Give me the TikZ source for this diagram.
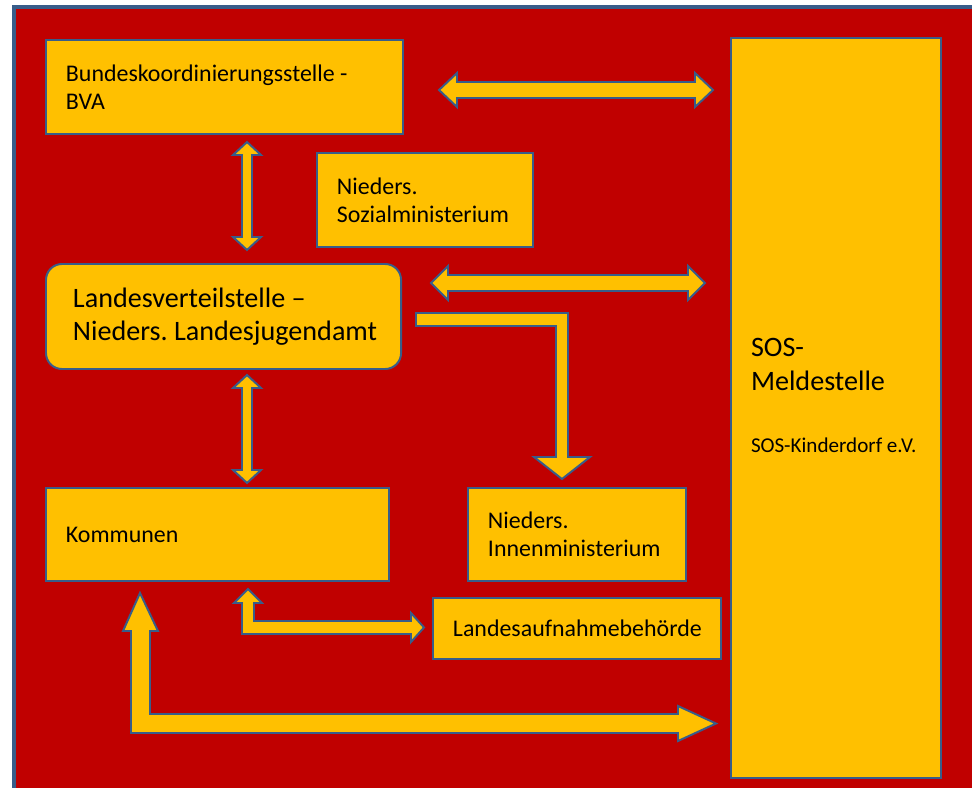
\documentclass[tikz,border=0pt]{standalone}
\usepackage{fontspec}
\setmainfont{Carlito}
\usetikzlibrary{positioning}
\frenchspacing

\definecolor{framered}{HTML}{C00000}
\definecolor{boxyellow}{HTML}{FFC000}
\definecolor{edgeblue}{HTML}{385D8A}

\tikzset{
  orgbox/.style={draw=edgeblue, fill=boxyellow, line width=1.4pt,
                 anchor=north west, align=flush left, inner sep=0pt,
                 font=\fontsize{17}{20}\selectfont, indent=0.5cm},
  indent/.style={execute at begin node={\leftskip=#1\relax}},
  fatarrow/.style={draw=edgeblue, fill=boxyellow, line width=1.4pt, line join=miter}
}

\begin{document}
\begin{tikzpicture}[x=0.025cm, y=-0.025cm]
  \useasboundingbox (0,0) rectangle (972,788);

  % red background with blue frame on left and top
  \fill[framered] (14,7) rectangle (972,788);
  \draw[edgeblue, line width=2.2pt] (14,788) -- (14,7) -- (972,7);

  % boxes
  \node[orgbox, text width=8.925cm, minimum height=2.35cm]
    (bva) at (45,39) {Bundeskoordinierungsstelle -\\BVA};
  \node[orgbox, text width=5.4cm, minimum height=2.35cm]
    (sozial) at (316,152) {Nieders.\\Sozialministerium};
  \node[orgbox, rounded corners=0.4cm, indent=0.675cm,
        text width=8.875cm, minimum height=2.625cm,
        font=\fontsize{20}{23.5}\selectfont]
    (lvs) at (45,263) {Landesverteilstelle –\\Nieders. Landesjugendamt};
  \node[orgbox, text width=8.575cm, minimum height=2.325cm]
    (komm) at (45,487) {Kommunen};
  \node[orgbox, text width=5.45cm, minimum height=2.325cm]
    (innen) at (467,487) {Nieders.\\Innenministerium};
  \node[orgbox, text width=7.2cm, minimum height=1.525cm]
    (lab) at (432,597) {Landesaufnahmebehörde};
  \node[orgbox, text width=5.25cm, minimum height=18.5cm,
        font=\fontsize{20}{24.5}\selectfont]
    (sos) at (730,37) {SOS-\\Meldestelle\\[19.5pt]{\fontsize{15}{18}\selectfont SOS-Kinderdorf e.V.}\\[-6.5pt]\mbox{}};

  % BVA <-> SOS
  \draw[fatarrow] (439,90) -- (457,73) -- (457,82) -- (695,82) -- (695,73)
    -- (713,90) -- (695,107) -- (695,98) -- (457,98) -- (457,107) -- cycle;
  % Landesverteilstelle <-> SOS
  \draw[fatarrow] (431,283) -- (448,266) -- (448,275) -- (688,275) -- (688,266)
    -- (705,283) -- (688,300) -- (688,291) -- (448,291) -- (448,300) -- cycle;
  % BVA <-> Landesverteilstelle
  \draw[fatarrow] (247,142) -- (261,155) -- (252,155) -- (252,237) -- (261,237)
    -- (247,250) -- (233,237) -- (242,237) -- (242,155) -- (233,155) -- cycle;
  % Landesverteilstelle <-> Kommunen
  \draw[fatarrow] (247,375) -- (261,388) -- (252,388) -- (252,470) -- (261,470)
    -- (247,483) -- (233,470) -- (242,470) -- (242,388) -- (233,388) -- cycle;
  % Landesverteilstelle -> Innenministerium
  \draw[fatarrow] (416,313) -- (568,313) -- (568,457) -- (590,457) -- (562,479)
    -- (534,457) -- (556,457) -- (556,326) -- (416,326) -- cycle;
  % Kommunen <-> Landesaufnahmebehoerde
  \draw[fatarrow] (248,589) -- (262,603) -- (254,603) -- (254,621) -- (411,621)
    -- (411,613) -- (424,627.5) -- (411,642) -- (411,634) -- (242,634)
    -- (242,603) -- (234,603) -- cycle;
  % Kommunen <-> SOS
  \draw[fatarrow] (140,593) -- (158,631) -- (150,631) -- (150,714) -- (678,714)
    -- (678,706) -- (716,723.5) -- (678,741) -- (678,733) -- (131,733)
    -- (131,631) -- (123,631) -- cycle;
\end{tikzpicture}
\end{document}
